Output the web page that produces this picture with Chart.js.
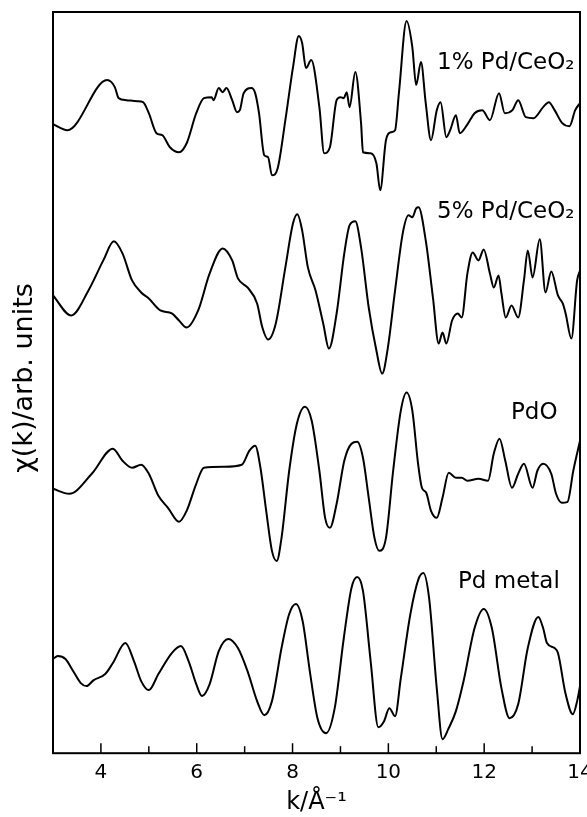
<!DOCTYPE html>
<html lang="en">
<head>
<meta charset="UTF-8">
<title>EXAFS chi(k)</title>
<script src="https://cdn.jsdelivr.net/npm/chart.js"></script>
<style>
  html, body { margin: 0; padding: 0; background: #fff; }
  #wrap { width: 587px; height: 817px; }
</style>
</head>
<body>
<div id="wrap"><canvas id="exafsChart"></canvas></div>
<script>
// values: k in 1/A, chi in arbitrary units (curves already offset)
const kOne = [3.0,3.30,4.13,4.29,4.37,4.53,4.76,4.88,5.0,5.16,5.28,5.44,5.63,5.79,5.99,6.15,6.31,6.35,6.46,6.54,6.62,6.74,6.84,6.90,6.98,7.14,7.22,7.30,7.41,7.49,7.57,7.69,7.85,8.01,8.13,8.20,8.28,8.39,8.56,8.66,8.78,8.92,9.0,9.07,9.13,9.19,9.31,9.43,9.47,9.63,9.75,9.83,9.95,10.06,10.14,10.22,10.38,10.50,10.58,10.68,10.78,10.89,11.01,11.09,11.21,11.29,11.41,11.49,11.64,11.80,11.96,12.12,12.31,12.43,12.59,12.71,12.87,13.03,13.23,13.35,13.47,13.63,13.78,13.90,14.0];
const chiOne = [628,622,672,665,654,652,651,650,639,619,617,605,600,609,639,654,655,652,664,660,664,652,640,642,659,664,659,639,597,595,577,584,632,685,716,709,684,692,645,599,605,652,655,654,660,645,680,629,600,599,589,562,612,620,622,659,731,705,667,690,649,612,642,650,615,622,637,619,627,639,642,632,659,639,642,652,635,634,645,650,642,629,626,642,649];

const kFive = [3.0,3.38,3.74,4.05,4.27,4.45,4.65,4.84,5.0,5.24,5.48,5.63,5.79,6.03,6.27,6.54,6.74,6.86,7.06,7.26,7.37,7.49,7.65,7.85,8.01,8.10,8.20,8.32,8.48,8.64,8.76,8.92,9.08,9.19,9.31,9.43,9.59,9.75,9.87,9.99,10.14,10.30,10.42,10.50,10.58,10.63,10.78,10.93,11.05,11.13,11.21,11.33,11.45,11.53,11.65,11.76,11.88,11.99,12.12,12.20,12.30,12.36,12.45,12.57,12.71,12.83,12.91,13.01,13.16,13.28,13.40,13.54,13.64,13.70,13.82,13.94,14.0];
const chiFive = [457,437,462,492,511,499,472,460,454,442,439,432,425,442,479,504,492,474,465,449,425,413,429,485,529,538,522,485,462,429,404,439,499,527,531,505,445,402,379,405,462,519,537,535,544,545,512,455,409,420,409,432,439,435,479,500,492,503,479,465,477,459,435,447,435,472,502,475,513,460,481,457,449,439,414,472,482];

const kPdO = [3.0,3.34,3.81,4.25,4.45,4.65,4.84,5.0,5.20,5.40,5.63,5.79,5.99,6.15,6.58,6.94,7.10,7.22,7.33,7.45,7.57,7.67,7.77,7.93,8.09,8.26,8.40,8.56,8.68,8.78,8.92,9.08,9.23,9.35,9.47,9.59,9.71,9.81,9.95,10.10,10.26,10.38,10.50,10.62,10.70,10.79,10.89,11.01,11.13,11.26,11.41,11.53,11.65,11.88,12.08,12.20,12.32,12.44,12.58,12.71,12.83,13.01,13.11,13.23,13.40,13.50,13.62,13.74,13.86,14.0];
const chiPdO = [264,259,279,304,292,285,288,279,257,245,231,242,269,285,286,288,302,307,285,242,202,192,215,282,329,346,332,282,235,225,249,292,309,311,295,255,215,202,215,282,342,360,342,289,265,260,242,235,255,280,275,275,272,274,272,299,314,292,265,279,289,265,282,289,279,259,250,251,282,312];

const kMetal = [3.0,3.10,3.26,3.42,3.58,3.70,3.85,4.09,4.25,4.51,4.69,4.84,5.0,5.20,5.48,5.67,5.83,5.99,6.11,6.27,6.46,6.66,6.86,7.06,7.26,7.41,7.57,7.77,7.93,8.07,8.21,8.36,8.52,8.70,8.88,9.07,9.23,9.35,9.47,9.63,9.79,9.91,10.02,10.14,10.26,10.46,10.63,10.73,10.85,11.01,11.13,11.25,11.41,11.57,11.80,11.99,12.16,12.36,12.53,12.71,12.91,13.13,13.23,13.31,13.47,13.54,13.70,13.85,13.94,14.0];
const chiMetal = [94,97,94,82,70,67,73,79,90,110,92,72,63,79,100,107,92,69,57,69,102,114,105,82,52,38,52,105,139,149,132,82,35,20,45,115,165,176,162,92,26,32,45,37,75,139,174,180,155,65,14,24,42,72,125,144,125,65,35,49,105,136,125,110,105,100,59,39,52,67];

const seriesLabels = ['1% Pd/CeO₂', '5% Pd/CeO₂', 'PdO', 'Pd metal'];
const xTicks = [4, 6, 8, 10, 12, 14];

function pairs(xs, ys) {
  return xs.map((x, i) => ({ x: x, y: ys[i] }));
}

function lineSet(label, xs, ys) {
  return {
    label: label,
    data: pairs(xs, ys),
    borderColor: '#000',
    borderWidth: 2,
    pointRadius: 0,
    fill: false,
    cubicInterpolationMode: 'monotone'
  };
}

// frame, inward ticks, y title and curve names
const decorations = {
  id: 'decorations',
  afterDraw(chart) {
    const ctx = chart.ctx;
    const area = chart.chartArea;
    const xs = chart.scales.x;
    ctx.save();
    ctx.strokeStyle = '#000';
    ctx.lineWidth = 2;
    ctx.strokeRect(area.left, area.top, area.right - area.left, area.bottom - area.top);

    ctx.lineWidth = 1.5;
    for (let v = 4; v <= 13; v++) {
      const px = xs.getPixelForValue(v);
      const len = v % 2 === 0 ? 10 : 7;
      ctx.beginPath();
      ctx.moveTo(px, area.bottom);
      ctx.lineTo(px, area.bottom - len);
      ctx.stroke();
    }

    ctx.fillStyle = '#000';
    ctx.font = '27px "DejaVu Sans"';
    ctx.textAlign = 'center';
    ctx.textBaseline = 'middle';
    ctx.save();
    ctx.translate(25, 378);
    ctx.rotate(-Math.PI / 2);
    ctx.fillText('χ(k)/arb. units', 0, 0);
    ctx.restore();

    ctx.font = '23px "DejaVu Sans"';
    ctx.textAlign = 'left';
    const namePos = [[437, 63], [437, 212], [511, 413], [458, 582]];
    seriesLabels.forEach((name, i) => {
      ctx.fillText(name, namePos[i][0], namePos[i][1]);
    });
    ctx.restore();
  }
};

new Chart(document.getElementById('exafsChart'), {
  type: 'line',
  data: {
    datasets: [
      lineSet(seriesLabels[0], kOne, chiOne),
      lineSet(seriesLabels[1], kFive, chiFive),
      lineSet(seriesLabels[2], kPdO, chiPdO),
      lineSet(seriesLabels[3], kMetal, chiMetal)
    ]
  },
  options: {
    responsive: true,
    maintainAspectRatio: false,
    animation: false,
    layout: { padding: { left: 53, right: 7, top: 12, bottom: 0 } },
    plugins: { legend: { display: false }, tooltip: { enabled: false } },
    scales: {
      x: {
        type: 'linear',
        min: 3,
        max: 14,
        border: { display: false },
        grid: { display: false, drawTicks: false },
        afterBuildTicks: axis => { axis.ticks = xTicks.map(v => ({ value: v })); },
        afterFit: axis => { axis.paddingLeft = 0; axis.paddingRight = 0; },
        ticks: { color: '#000', font: { family: 'DejaVu Sans', size: 20 }, padding: 8, maxRotation: 0 },
        title: {
          display: true,
          text: 'k/Å⁻¹',
          color: '#000',
          font: { family: 'DejaVu Sans', size: 24 },
          padding: { top: -5, bottom: 0 }
        }
      },
      y: {
        display: false,
        min: 0,
        max: 740
      }
    }
  },
  plugins: [decorations]
});
</script>
</body>
</html>
